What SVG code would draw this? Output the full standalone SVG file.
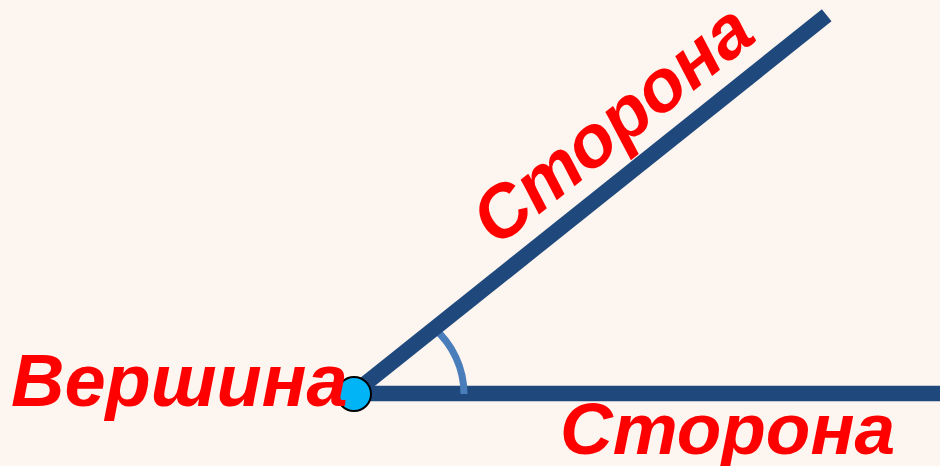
<svg xmlns="http://www.w3.org/2000/svg" width="940" height="466" viewBox="0 0 940 466">
  <style>
    .side { stroke: #1F497D; stroke-width: 15.5; fill: none; }
    .arc { stroke: #4A7EBB; stroke-width: 7; fill: none; }
    .lbl { font-family: "Liberation Sans", Arial, sans-serif; font-weight: bold; font-style: italic; fill: #FF0000; }
  </style>
  <rect x="0" y="0" width="940" height="466" fill="#FDF5EF"/>
  <g id="connectors">
    <line id="side-horizontal" class="side" x1="353" y1="393.5" x2="940" y2="393.5"/>
    <path id="angle-arc" class="arc" d="M 433.7,328 A 87 87 0 0 1 464,394"/>
    <line id="side-diagonal" class="side" x1="353" y1="393.5" x2="826.7" y2="15.3"/>
  </g>
  <g id="vertex">
    <circle cx="354" cy="394" r="17" fill="#00B4F5" stroke="#000000" stroke-width="2"/>
  </g>
  <g id="label-vertex">
    <text class="lbl" x="11" y="406" font-size="74">Вершина</text>
  </g>
  <g id="label-side-bottom">
    <text class="lbl" x="560" y="454" font-size="73">Сторона</text>
  </g>
  <g id="label-side-top">
    <text class="lbl" transform="translate(353,393.5) rotate(-38.6)" x="203" y="-24" font-size="73">Сторона</text>
  </g>
</svg>
